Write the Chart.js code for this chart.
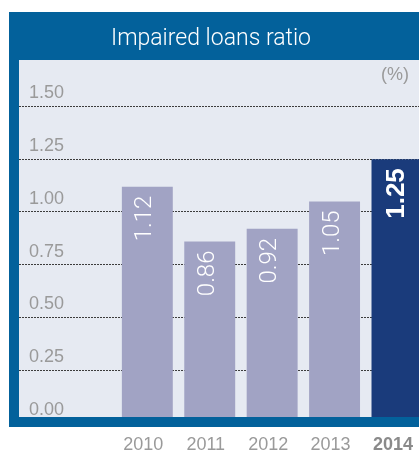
<!DOCTYPE html>
<html>
<head>
<meta charset="utf-8">
<script src="https://cdn.jsdelivr.net/npm/chart.js@4/dist/chart.umd.min.js"></script>
<style>
  html, body { margin: 0; padding: 0; background: #fff; overflow: hidden; }
  #wrap { width: 419px; height: 454px; overflow: hidden; }
</style>
</head>
<body>
<div id="wrap"><canvas id="ratioChart" width="430" height="454"></canvas></div>
<script>
// impaired loans ratio, %
const years = [2010, 2011, 2012, 2013, 2014];
const ratios = [1.12, 0.86, 0.92, 1.05, 1.25];
const yTicks = [0, 0.25, 0.5, 0.75, 1.0, 1.25, 1.5];
const chartTitle = "Impaired loans ratio";
const unitLabel = "(%)";

const FRAME = "#03619b";
const PANEL = "#e6eaf2";
const BAR = "#a1a3c4";
const BAR_LAST = "#1a3b7b";
const GREY = "#9a9a9a";
const FONT = "'Liberation Sans', Arial, sans-serif";
const LIGHT = "Roboto, 'Liberation Sans', sans-serif";

const lastYear = years[years.length - 1];

// blue frame, title band and light panel behind the plot
const backdrop = {
  id: "backdrop",
  beforeDraw(chart) {
    const { ctx, chartArea: a } = chart;
    ctx.save();
    ctx.fillStyle = FRAME;
    ctx.fillRect(9, 12, chart.width, a.bottom + 4 - 12);
    ctx.fillStyle = PANEL;
    ctx.fillRect(a.left, a.top, chart.width, a.bottom - 6 - a.top);
    ctx.fillStyle = "#fff";
    ctx.font = "300 23px " + LIGHT;
    ctx.textAlign = "center";
    ctx.textBaseline = "alphabetic";
    ctx.fillText(chartTitle, 211, 45);
    ctx.fillStyle = GREY;
    ctx.font = "18px " + FONT;
    ctx.textAlign = "right";
    ctx.fillText(unitLabel, 409, 80);
    ctx.restore();
  },
  afterDatasetsDraw(chart) {
    const { ctx, chartArea: a } = chart;
    ctx.save();
    // bottom strip covers the feet of the bars
    ctx.fillStyle = FRAME;
    ctx.fillRect(9, a.bottom - 6, chart.width, 10);
    // values written up the bars
    const meta = chart.getDatasetMeta(0);
    meta.data.forEach((bar, i) => {
      const bold = years[i] === lastYear;
      ctx.save();
      ctx.translate(bar.x - (bold ? 0 : 2), bar.y + 9);
      ctx.rotate(-Math.PI / 2);
      ctx.fillStyle = "#fff";
      ctx.font = bold ? "bold 26px " + FONT : "300 24px " + LIGHT;
      ctx.textAlign = "right";
      ctx.textBaseline = "middle";
      ctx.fillText(ratios[i].toFixed(2), 0, 0);
      ctx.restore();
    });
    ctx.restore();
  }
};

new Chart(document.getElementById("ratioChart"), {
  type: "bar",
  data: {
    datasets: [{
      data: years.map((y, i) => ({ x: y, y: ratios[i] })),
      backgroundColor: years.map(y => y === lastYear ? BAR_LAST : BAR),
      borderWidth: 0,
      categoryPercentage: 1,
      barPercentage: 0.816
    }]
  },
  options: {
    responsive: false,
    animation: false,
    layout: { padding: { left: 9, top: 60, right: 0, bottom: 0 } },
    plugins: { legend: { display: false }, tooltip: { enabled: false } },
    scales: {
      x: {
        type: "linear",
        offset: false,
        min: 2007.944,
        max: 2014.52,
        afterBuildTicks: s => { s.ticks = years.map(v => ({ value: v })); },
        afterFit: s => { s.height = 31; },
        grid: { display: false, drawTicks: false, offset: false },
        border: { display: false },
        ticks: {
          padding: 13,
          labelOffset: -4,
          callback: v => String(v),
          color: ctx => ctx.tick && ctx.tick.value === lastYear ? "#8a8a8a" : GREY,
          font: ctx => ({
            family: FONT,
            size: 18,
            lineHeight: 1,
            weight: ctx.tick && ctx.tick.value === lastYear ? "bold" : "normal"
          })
        }
      },
      y: {
        min: 0,
        max: 1.72,
        afterBuildTicks: s => { s.ticks = yTicks.map(v => ({ value: v })); },
        afterFit: s => { s.width = 10; },
        grid: { color: "#3c3c3c", lineWidth: 1, drawTicks: false },
        border: { display: false, dash: [2, 1] },
        ticks: {
          mirror: true,
          padding: 10,
          labelOffset: -13,
          color: GREY,
          font: { family: FONT, size: 18 },
          callback: v => v.toFixed(2)
        }
      }
    }
  },
  plugins: [backdrop]
});
</script>
</body>
</html>
